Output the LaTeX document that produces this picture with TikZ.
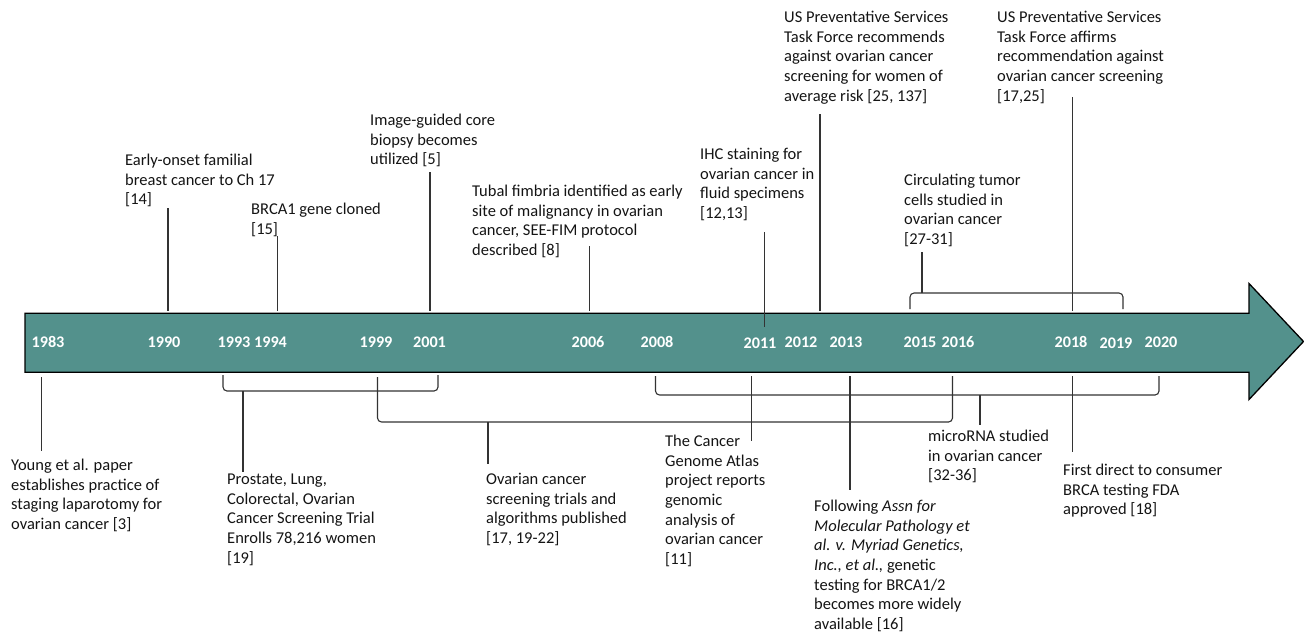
\documentclass[tikz,border=0pt]{standalone}
\usepackage{fontspec}
\setmainfont{Carlito}
\definecolor{tealfill}{RGB}{83,145,140}
\definecolor{txt}{RGB}{20,20,20}
\begin{document}
\begin{tikzpicture}[x=1pt,y=-1pt,
  lbl/.style={anchor=north west, inner sep=0pt, align=left, font=\fontsize{16.5}{19.6}\selectfont, text=txt},
  yr/.style={font=\bfseries\fontsize{16.2}{19}\selectfont, text=white, inner sep=0pt},
  conn/.style={draw=black!80, line width=1.1pt},
  brk/.style={conn, rounded corners=4pt}]
\useasboundingbox (0,0) rectangle (1304,633);
% main arrow
\draw[fill=tealfill, draw=black, line width=1.3pt, line join=miter]
  (25,313.3) -- (1249,313.3) -- (1249,283.5) -- (1303.5,341.5) -- (1249,399.5) -- (1249,372.3) -- (25,372.3) -- cycle;
% years
\node[yr] (y1983) at (48,342) {1983};
\node[yr] (y1990) at (164,342) {1990};
\node[yr] (y1993) at (234,342) {1993};
\node[yr] (y1994) at (270.5,342) {1994};
\node[yr] (y1999) at (376,342) {1999};
\node[yr] (y2001) at (429.5,342) {2001};
\node[yr] (y2006) at (588,342) {2006};
\node[yr] (y2008) at (657,342) {2008};
\node[yr] (y2011) at (760,343) {2011};
\node[yr] (y2012) at (801,342) {2012};
\node[yr] (y2013) at (846,342) {2013};
\node[yr] (y2015) at (920,342) {2015};
\node[yr] (y2016) at (958,342) {2016};
\node[yr] (y2018) at (1071,342) {2018};
\node[yr] (y2019) at (1116,343) {2019};
\node[yr] (y2020) at (1161,342) {2020};
% top texts
\node[lbl] (t1990) at (125,154) {Early-onset familial\\breast cancer to Ch 17\\{[14]}};
\node[lbl] (t1994) at (251,203) {BRCA1 gene cloned\\{[15]}};
\node[lbl] (t2001) at (370,114) {Image-guided core\\biopsy becomes\\utilized [5]};
\node[lbl] (t2006) at (472,185) {Tubal fimbria identified as early\\site of malignancy in ovarian\\cancer, SEE-FIM protocol\\described [8]};
\node[lbl] (t2011) at (700,148) {IHC staining for\\ovarian cancer in\\fluid specimens\\{[12,13]}};
\node[lbl] (t2012) at (784,11) {US Preventative Services\\Task Force recommends\\against ovarian cancer\\screening for women of\\average risk [25, 137]};
\node[lbl] (t2018) at (997,11) {US Preventative Services\\Task Force affirms\\recommendation against\\ovarian cancer screening\\{[17,25]}};
\node[lbl] (tctc) at (904,174) {Circulating tumor\\cells studied in\\ovarian cancer\\{[27-31]}};
% bottom texts
\node[lbl] (t1983) at (11,459) {Young et al. paper\\establishes practice of\\staging laparotomy for\\ovarian cancer [3]};
\node[lbl] (tplco) at (227,474) {Prostate, Lung,\\Colorectal, Ovarian\\Cancer Screening Trial\\Enrolls 78,216 women\\{[19]}};
\node[lbl] (tscr) at (486,473) {Ovarian cancer\\screening trials and\\algorithms published\\{[17, 19-22]}};
\node[lbl] (ttcga) at (665,435) {The Cancer\\Genome Atlas\\project reports\\genomic\\analysis of\\ovarian cancer\\{[11]}};
\node[lbl] (tmyr) at (814,500) {Following \textit{Assn for}\\\textit{Molecular Pathology et}\\\textit{al. v. Myriad Genetics,}\\\textit{Inc., et al.,} genetic\\testing for BRCA1/2\\becomes more widely\\available [16]};
\node[lbl] (tmir) at (928,430) {microRNA studied\\in ovarian cancer\\{[32-36]}};
\node[lbl] (tfda) at (1063,464) {First direct to consumer\\BRCA testing FDA\\approved [18]};
% connector end points
\coordinate (s1990) at (168,208); \coordinate (e1990) at (168,311);
\coordinate (s1994) at (277.5,236); \coordinate (e1994) at (277.5,311);
\coordinate (s2001) at (430,172); \coordinate (e2001) at (430,311);
\coordinate (s2006) at (589.5,246); \coordinate (e2006) at (589.5,311);
\coordinate (s2011) at (764.5,232); \coordinate (e2011) at (764.5,327);
\coordinate (s2012) at (820,114); \coordinate (e2012) at (820,311);
\coordinate (s2018) at (1072.5,97); \coordinate (e2018) at (1072.5,311);
\coordinate (sctc) at (922,252); \coordinate (ectc) at (922,293);
\draw[conn] (s1990) -- (e1990);
\draw[conn] (s1994) -- (e1994);
\draw[conn] (s2001) -- (e2001);
\draw[conn] (s2006) -- (e2006);
\draw[conn] (s2011) -- (e2011);
\draw[conn] (s2012) -- (e2012);
\draw[conn] (s2018) -- (e2018);
\draw[conn] (sctc) -- (ectc);
% top bracket 2015-2019
\draw[brk] (910,309) -- (910,293) -- (1123,293) -- (1123,309);
% bottom brackets
\draw[brk] (223,375) -- (223,391) -- (438,391) -- (438,375);
\draw[brk] (377.5,377) -- (377.5,422) -- (952.5,422) -- (952.5,376);
\draw[brk] (655.5,376) -- (655.5,395) -- (1159,395) -- (1159,376);
% bottom connectors
\coordinate (b1983) at (41.5,377); \coordinate (c1983) at (41.5,451);
\coordinate (bplco) at (243,391); \coordinate (cplco) at (243,472);
\coordinate (bscr) at (488,422); \coordinate (cscr) at (488,464);
\coordinate (bmir) at (980,395); \coordinate (cmir) at (980,425);
\coordinate (b2011) at (751.5,376); \coordinate (c2011) at (751.5,441);
\coordinate (b2013) at (850,376); \coordinate (c2013) at (850,490);
\coordinate (b2018) at (1072.5,376); \coordinate (c2018) at (1072.5,452);
\draw[conn] (b1983) -- (c1983);
\draw[conn] (bplco) -- (cplco);
\draw[conn] (bscr) -- (cscr);
\draw[conn] (bmir) -- (cmir);
\draw[conn] (b2011) -- (c2011);
\draw[conn] (b2013) -- (c2013);
\draw[conn] (b2018) -- (c2018);
\end{tikzpicture}
\end{document}
